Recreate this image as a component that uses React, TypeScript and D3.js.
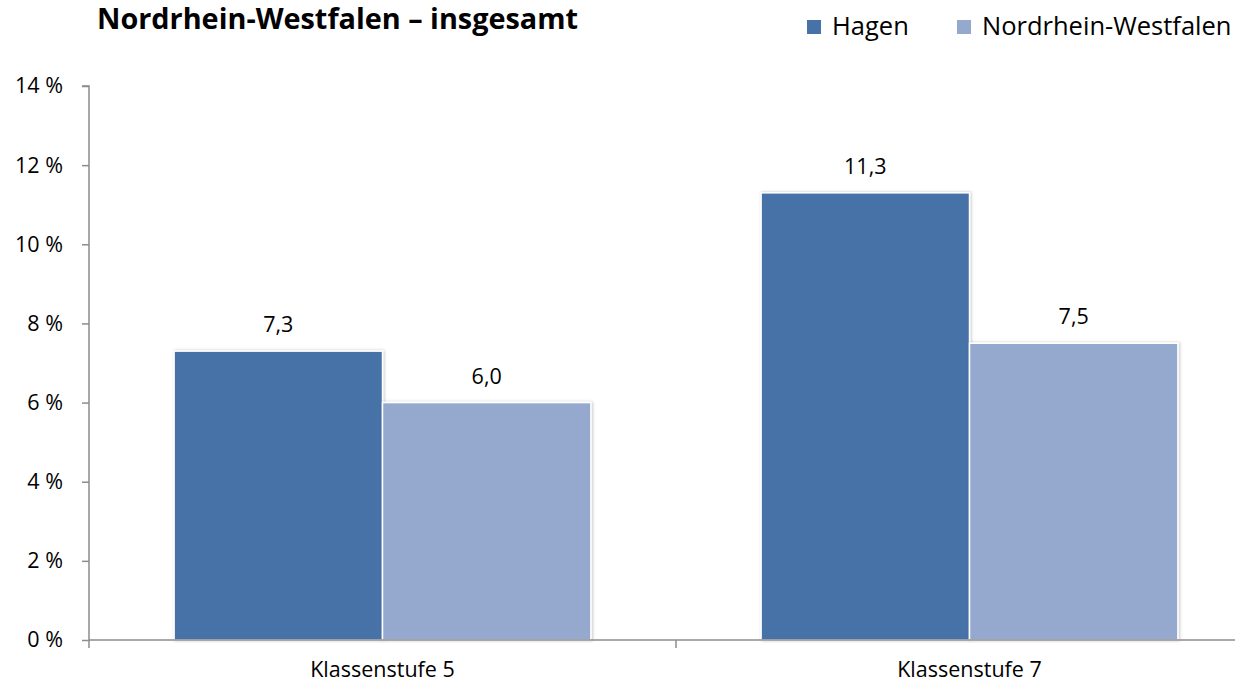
import React, { useEffect, useRef } from 'react'
import * as d3 from 'd3'

const categories = ['Klassenstufe 5', 'Klassenstufe 7']
const seriesNames = ['Hagen', 'Nordrhein-Westfalen']
const hagenValues = [7.3, 11.3]
const nrwValues = [6.0, 7.5]
const yTicks = [0, 2, 4, 6, 8, 10, 12, 14]
const colors = ['#4672A7', '#95A9CF']

const W = 1235
const H = 686
const FONT = "'Open Sans', 'Noto Sans', sans-serif"

export default function App() {
  const ref = useRef<SVGSVGElement>(null)

  useEffect(() => {
    document.body.style.margin = '0'
    const svg = d3.select(ref.current)
    svg.selectAll('*').remove()

    const left = 89
    const top = 86
    const bottom = 640
    const catWidth = 587

    const x0 = d3.scaleBand<string>()
      .domain(categories)
      .range([left, left + catWidth * categories.length])
      .padding(0)
    const gap = x0.bandwidth() * 0.145
    const x1 = d3.scaleBand<string>()
      .domain(seriesNames)
      .range([gap, x0.bandwidth() - gap])
      .padding(0)
    const y = d3.scaleLinear().domain([0, 14]).range([bottom, top])

    const defs = svg.append('defs')
    const f = defs.append('filter').attr('id', 'shadow')
      .attr('x', '-10%').attr('y', '-10%').attr('width', '120%').attr('height', '120%')
    f.append('feDropShadow').attr('dx', 1).attr('dy', 0).attr('stdDeviation', 1.5)
      .attr('flood-color', '#000').attr('flood-opacity', 0.25)

    // title
    svg.append('text')
      .attr('x', 97).attr('y', 29)
      .attr('font-family', FONT).attr('font-weight', 'bold').attr('font-size', 28)
      .attr('fill', '#000')
      .attr('textLength', 481).attr('lengthAdjust', 'spacingAndGlyphs')
      .text('Nordrhein-Westfalen – insgesamt')

    // legend
    const legendX = [807, 957]
    seriesNames.forEach((s, i) => {
      svg.append('rect')
        .attr('x', legendX[i]).attr('y', 20).attr('width', 14).attr('height', 14)
        .attr('fill', colors[i])
      svg.append('text')
        .attr('x', legendX[i] + 25).attr('y', 35)
        .attr('font-family', FONT).attr('font-size', 25.5).attr('fill', '#000')
        .text(s)
    })

    // y axis
    const yAxis = svg.append('g')
      .attr('transform', `translate(${left},0)`)
      .call(d3.axisLeft(y).tickValues(yTicks).tickSize(7).tickPadding(19)
        .tickFormat(d => `${d} %`))
    yAxis.select('.domain').attr('stroke', '#8c8c8c').attr('stroke-width', 1.5)
      .attr('d', `M-7,${top}H0V${bottom}`)
    yAxis.selectAll('.tick line').attr('stroke', '#8c8c8c').attr('stroke-width', 1.5)
    yAxis.selectAll('.tick text')
      .attr('font-family', FONT).attr('font-size', 21.5).attr('fill', '#000')

    // bars
    const data = categories.map((c, i) => ({ c, vals: [hagenValues[i], nrwValues[i]] }))
    const groups = svg.append('g').selectAll('g').data(data).enter().append('g')
      .attr('transform', d => `translate(${x0(d.c)},0)`)
    groups.selectAll('rect')
      .data(d => d.vals.map((v, i) => ({ v, s: seriesNames[i], i })))
      .enter().append('rect')
      .attr('x', d => x1(d.s)!)
      .attr('y', d => y(d.v))
      .attr('width', x1.bandwidth())
      .attr('height', d => bottom - y(d.v))
      .attr('fill', d => colors[d.i])
      .attr('stroke', '#fff')
      .attr('stroke-width', 1.5)
      .attr('filter', 'url(#shadow)')
    groups.selectAll('text.val')
      .data(d => d.vals.map((v, i) => ({ v, s: seriesNames[i] })))
      .enter().append('text')
      .attr('class', 'val')
      .attr('x', d => x1(d.s)! + x1.bandwidth() / 2)
      .attr('y', d => y(d.v) - 19)
      .attr('text-anchor', 'middle')
      .attr('font-family', FONT).attr('font-size', 21.5).attr('fill', '#000')
      .text(d => d3.format('.1f')(d.v).replace('.', ','))

    // x axis
    const xAxis = svg.append('g').attr('transform', `translate(0,${bottom})`)
    xAxis.append('line')
      .attr('x1', left).attr('x2', W).attr('y1', 0).attr('y2', 0)
      .attr('stroke', '#8c8c8c').attr('stroke-width', 1.5)
    const bounds = [left, ...categories.map(c => x0(c)! + x0.bandwidth())]
    xAxis.selectAll('line.tk').data(bounds).enter().append('line')
      .attr('class', 'tk')
      .attr('x1', d => d).attr('x2', d => d).attr('y1', 0).attr('y2', 8)
      .attr('stroke', '#8c8c8c').attr('stroke-width', 1.5)
    xAxis.selectAll('text').data(categories).enter().append('text')
      .attr('x', d => x0(d)! + x0.bandwidth() / 2)
      .attr('y', 37)
      .attr('text-anchor', 'middle')
      .attr('font-family', FONT).attr('font-size', 21.5).attr('fill', '#000')
      .text(d => d)
  }, [])

  return <svg ref={ref} width={W} height={H} style={{ display: 'block', background: '#fff' }} />
}
